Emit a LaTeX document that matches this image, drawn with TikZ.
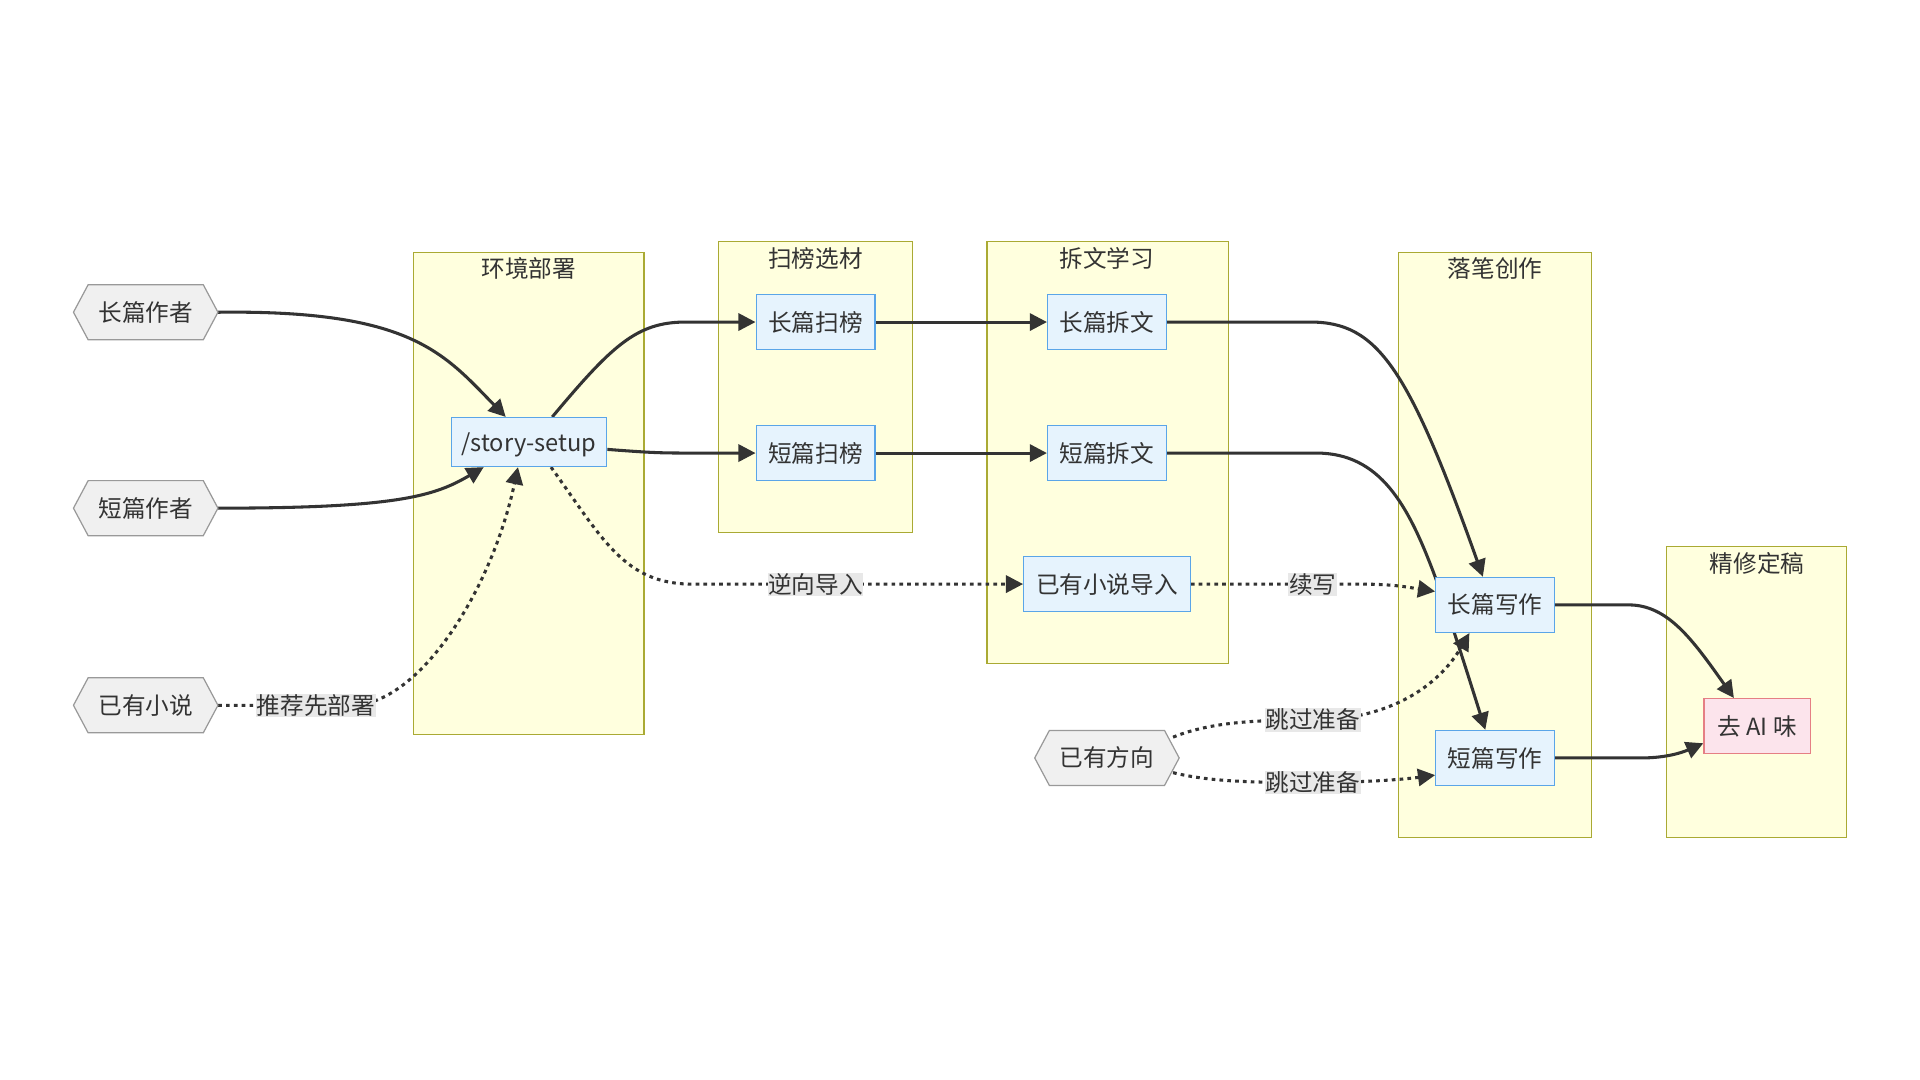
\documentclass[tikz,border=0pt]{standalone}
\usepackage{fontspec}
\setmainfont{Noto Sans CJK SC}
\usetikzlibrary{arrows.meta}
\definecolor{clfill}{HTML}{FFFFDE}
\definecolor{cldraw}{HTML}{AAAA33}
\definecolor{ndfill}{HTML}{E6F3FD}
\definecolor{nddraw}{HTML}{5AA5E8}
\definecolor{pkfill}{HTML}{FCE4EC}
\definecolor{pkdraw}{HTML}{E57F84}
\definecolor{hxfill}{HTML}{F0F0F0}
\definecolor{hxdraw}{HTML}{999999}
\definecolor{edgec}{HTML}{333333}
\definecolor{lblbg}{HTML}{E8E8E8}
\pgfdeclarelayer{clusters}
\pgfdeclarelayer{edges}
\pgfsetlayers{clusters,edges,main}
\newcommand{\hexnode}[4]{%
  \draw[hexline] (#2-59,#3) -- (#2-47,#3-22.5) -- (#2+47,#3-22.5) -- (#2+59,#3) -- (#2+47,#3+22.5) -- (#2-47,#3+22.5) -- cycle;
  \node[hexn] (#1) at (#2,#3) {#4};}
\tikzset{
  x=1pt, y=-1pt,
  every node/.style={font=\fontsize{19.3}{23}\selectfont, text=edgec},
  cluster/.style={draw=cldraw, fill=clfill, line width=1pt},
  ctitle/.style={inner sep=0},
  proc/.style={draw=nddraw, fill=ndfill, line width=1pt, minimum width=97pt, minimum height=45pt, inner sep=0},
  pink/.style={draw=pkdraw, fill=pkfill, line width=1pt, minimum width=87pt, minimum height=45pt, inner sep=0},
  hexline/.style={draw=hxdraw, fill=hxfill, line width=1pt},
  hexn/.style={minimum width=118pt, minimum height=45pt, inner sep=0},
  edge/.style={draw=edgec, line width=2.5pt, -{Triangle[length=14pt,width=14pt]}},
  dotedge/.style={edge, dash pattern=on 3pt off 3.4pt},
  lbl/.style={fill=lblbg, inner sep=0.5pt}
}
\begin{document}
\begin{tikzpicture}
\useasboundingbox (0,0) rectangle (1568,882);
% clusters
\begin{pgfonlayer}{clusters}
\fill[white] (0,0) rectangle (1568,882);
\draw[cluster] (338,206) rectangle (526,600);
\node[ctitle] (t1) at (432,219) {环境部署};
\draw[cluster] (587,197) rectangle (745,435);
\node[ctitle] (t2) at (666,211) {扫榜选材};
\draw[cluster] (806,197) rectangle (1003,542);
\node[ctitle] (t3) at (904,211) {拆文学习};
\draw[cluster] (1142,206) rectangle (1300,684);
\node[ctitle] (t4) at (1221,219) {落笔创作};
\draw[cluster] (1361,446) rectangle (1508,684);
\node[ctitle] (t5) at (1435,460) {精修定稿};
\end{pgfonlayer}
% hexagon nodes
\hexnode{long}{119}{255}{长篇作者}
\hexnode{short}{119}{415}{短篇作者}
\hexnode{novel}{119}{576}{已有小说}
\hexnode{dir}{904}{619}{已有方向}
% process nodes
\node[proc, minimum width=127pt, minimum height=40pt, text depth=-1pt] (setup) at (432,361) {/story-setup};
\node[proc] (sb1) at (666,263) {长篇扫榜};
\node[proc] (sb2) at (666,370) {短篇扫榜};
\node[proc] (cw1) at (904,263) {长篇拆文};
\node[proc] (cw2) at (904,370) {短篇拆文};
\node[proc, minimum width=136pt] (imp) at (904,477) {已有小说导入};
\node[proc] (wr1) at (1221,494) {长篇写作};
\node[proc] (wr2) at (1221,619) {短篇写作};
\node[pink] (ai) at (1435,593) {去 AI 味};
% edges
\begin{pgfonlayer}{edges}
\draw[edge] (long.east) .. controls (335,253) and (362,288) .. ([xshift=-19pt]setup.north);
\draw[edge] (short.east) .. controls (325,415) and (355,405) .. ([xshift=-37pt]setup.south);
\draw[dotedge] (novel.east) -- (290,576) .. controls (345,572) and (402,480) .. ([xshift=-9pt]setup.south);
\node[lbl] (l1) at (258,576) {推荐先部署};
\draw[edge] ([xshift=19pt]setup.north) .. controls (500,282) and (520,263) .. (560,263) -- (sb1.west);
\draw[edge] ([yshift=-6pt]setup.east) .. controls (535,370) and (540,370) .. (570,370) -- (sb2.west);
\draw[dotedge] ([xshift=18pt]setup.south) .. controls (492,440) and (510,477) .. (565,477) -- (imp.west);
\node[lbl] (l2) at (666,477) {逆向导入};
\draw[edge] (sb1.east) -- (cw1.west);
\draw[edge] (sb2.east) -- (cw2.west);
\draw[edge] (cw1.east) -- (1070,263) .. controls (1125,263) and (1150,300) .. ([xshift=-10pt]wr1.north);
\draw[edge] (cw2.east) -- (1075,370) .. controls (1127,370) and (1150,412) .. (1172,471) .. controls (1186,510) and (1200,555) .. ([xshift=-8pt]wr2.north);
\draw[dotedge] (imp.east) -- (1110,477) .. controls (1140,477) and (1152,480) .. ([yshift=11pt]wr1.west);
\node[lbl] (l3) at (1072,477) {续写};
\draw[dotedge] (958,602) .. controls (990,589) and (1030,588) .. (1072,588) .. controls (1135,588) and (1175,560) .. ([xshift=-21pt]wr1.south);
\node[lbl] (l4) at (1072,588) {跳过准备};
\draw[dotedge] (958,631) .. controls (990,639) and (1030,639) .. (1072,639) .. controls (1120,639) and (1150,636) .. ([yshift=-14pt]wr2.west);
\node[lbl] (l5) at (1072,639) {跳过准备};
\draw[edge] (wr1.east) -- (1330,494) .. controls (1362,494) and (1382,522) .. ([xshift=-19pt]ai.north);
\draw[edge] (wr2.east) -- (1340,619) .. controls (1362,619) and (1375,614) .. ([yshift=-14pt]ai.west);
\end{pgfonlayer}
\end{tikzpicture}
\end{document}
